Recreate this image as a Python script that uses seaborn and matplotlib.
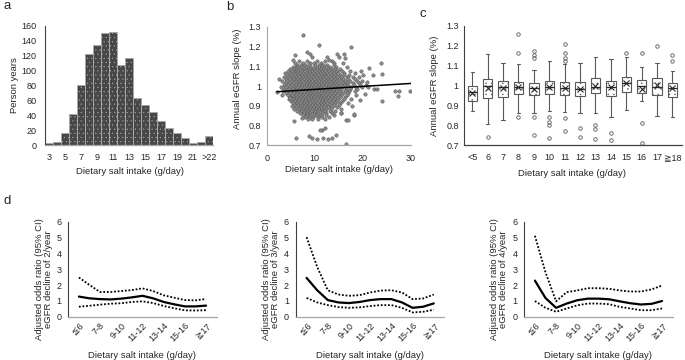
import numpy as np
import matplotlib
matplotlib.use("Agg")
import matplotlib.pyplot as plt
import seaborn as sns

# Panel a: person years per salt intake bin
salt_bins = ['3', '4', '5', '6', '7', '8', '9', '10', '11', '12', '13', '14', '15',
             '16', '17', '18', '19', '20', '21', '22', '>22']
person_years = [3, 4.5, 16.5, 41.5, 81, 122.5, 134, 150, 151.5, 107, 117.5, 63.5, 53.5,
                44.5, 32.5, 22.5, 16.5, 9, 2.5, 3.5, 11.5]

# Panel b: scatter cloud, read row by row (slope, salt intakes)
cloud_rows = [
    (1.125, [6.8, 8.3, 10.4, 12.2, 13.5]),
    (1.115, [5.9, 7.6, 9.0, 9.8, 11.3, 14.0, 15.8]),
    (1.105, [6.3, 7.1, 8.0, 8.7, 10.1, 10.9, 11.8, 12.6, 13.9]),
    (1.095, [5.4, 6.0, 6.6, 7.4, 8.2, 9.3, 10.0, 10.8, 11.5, 12.4, 13.1, 14.5, 16.7]),
    (1.085, [4.9, 5.7, 6.3, 7.0, 7.7, 8.5, 9.1, 9.8, 10.5, 11.2, 12.0, 12.8, 13.6, 14.3, 15.2]),
    (1.075, [4.5, 5.3, 6.0, 6.6, 7.3, 8.0, 8.7, 9.4, 10.1, 10.8, 11.5, 12.2, 12.9, 13.7, 14.6, 15.6, 17.3]),
    (1.065, [3.9, 4.8, 5.6, 6.3, 7.0, 7.6, 8.3, 9.0, 9.7, 10.4, 11.1, 11.8, 12.5, 13.2, 14.0, 14.8, 16.1, 18.4]),
    (1.055, [4.3, 5.1, 5.9, 6.6, 7.3, 8.0, 8.6, 9.3, 10.0, 10.7, 11.4, 12.1, 12.8, 13.5, 14.3, 15.2, 16.0, 17.2]),
    (1.045, [3.6, 4.6, 5.4, 6.1, 6.8, 7.5, 8.2, 8.9, 9.6, 10.3, 11.0, 11.7, 12.4, 13.1, 13.9, 14.7, 15.5, 16.6, 18.0, 19.1]),
    (1.035, [4.0, 4.9, 5.7, 6.4, 7.1, 7.8, 8.5, 9.2, 9.9, 10.6, 11.3, 12.0, 12.7, 13.4, 14.2, 15.0, 15.9, 17.0, 18.3]),
    (1.025, [3.2, 4.3, 5.2, 6.0, 6.7, 7.4, 8.1, 8.8, 9.5, 10.2, 10.9, 11.6, 12.3, 13.0, 13.7, 14.5, 15.4, 16.3, 17.4, 18.7, 19.8]),
    (1.015, [3.8, 4.7, 5.5, 6.3, 7.0, 7.7, 8.4, 9.1, 9.8, 10.5, 11.2, 11.9, 12.6, 13.3, 14.1, 14.9, 15.8, 16.8, 17.9, 19.2]),
    (1.005, [3.5, 4.4, 5.2, 6.0, 6.7, 7.4, 8.1, 8.8, 9.5, 10.2, 10.9, 11.6, 12.3, 13.0, 13.7, 14.4, 15.2, 16.1, 17.0, 18.1, 19.4, 20.6]),
    (0.995, [3.0, 4.1, 4.9, 5.7, 6.4, 7.1, 7.8, 8.5, 9.2, 9.9, 10.6, 11.3, 12.0, 12.7, 13.4, 14.1, 14.8, 15.6, 16.5, 17.5, 18.6, 19.9]),
    (0.985, [3.7, 4.6, 5.4, 6.2, 6.9, 7.6, 8.3, 9.0, 9.7, 10.4, 11.1, 11.8, 12.5, 13.2, 13.9, 14.7, 15.5, 16.4, 17.4, 18.8]),
    (0.975, [3.3, 4.3, 5.1, 5.9, 6.6, 7.3, 8.0, 8.7, 9.4, 10.1, 10.8, 11.5, 12.2, 12.9, 13.6, 14.4, 15.3, 16.2, 17.2, 18.3]),
    (0.965, [4.0, 4.8, 5.6, 6.3, 7.0, 7.7, 8.4, 9.1, 9.8, 10.5, 11.2, 11.9, 12.6, 13.3, 14.1, 15.0, 15.9, 17.0]),
    (0.955, [4.4, 5.3, 6.0, 6.7, 7.4, 8.1, 8.8, 9.5, 10.2, 10.9, 11.6, 12.3, 13.0, 13.8, 14.6, 15.5, 16.6, 18.6]),
    (0.945, [4.9, 5.7, 6.4, 7.1, 7.8, 8.5, 9.2, 9.9, 10.6, 11.3, 12.0, 12.7, 13.5, 14.3, 15.2, 16.2]),
    (0.935, [4.6, 5.4, 6.1, 6.8, 7.5, 8.2, 8.9, 9.6, 10.3, 11.0, 11.7, 12.4, 13.2, 14.0, 14.9, 16.0, 17.5]),
    (0.925, [5.1, 5.9, 6.6, 7.3, 8.0, 8.7, 9.4, 10.1, 10.8, 11.5, 12.2, 12.9, 13.7, 14.6, 15.6]),
    (0.915, [5.5, 6.3, 7.0, 7.7, 8.4, 9.1, 9.8, 10.5, 11.2, 11.9, 12.6, 13.4, 14.3, 15.3, 16.9]),
    (0.905, [5.8, 6.6, 7.3, 8.0, 8.7, 9.4, 10.1, 10.8, 11.5, 12.2, 13.0, 13.9, 15.0]),
    (0.895, [6.2, 7.0, 7.7, 8.4, 9.1, 9.8, 10.5, 11.2, 11.9, 12.7, 13.6, 14.7]),
    (0.885, [5.7, 6.7, 7.4, 8.1, 8.8, 9.5, 10.2, 10.9, 11.6, 12.4, 13.3, 15.5]),
    (0.875, [6.4, 7.2, 7.9, 8.6, 9.3, 10.0, 10.7, 11.4, 12.2, 13.1, 14.2]),
    (0.865, [6.9, 7.7, 8.4, 9.1, 9.8, 10.6, 11.4, 12.3, 13.5, 15.4]),
    (0.855, [7.5, 8.3, 9.0, 9.8, 10.5, 11.3, 12.4, 14.0, 18.2]),
    (0.845, [8.0, 8.9, 9.7, 10.6, 11.6, 13.0]),
    (0.835, [8.6, 9.5, 10.7, 12.2]),
]
outlier_x = [7.6, 10.9, 17.5, 5.9, 5.5, 9.0, 9.4, 8.3, 12.6, 12.9, 14.7, 15.1, 16.1, 16.3,
             23.7, 21.3, 22.2, 24.0, 20.1, 19.6, 26.7, 27.5, 27.4, 29.7, 24.0, 22.3, 23.0,
             21.1, 20.8, 2.6, 2.1, 5.75, 6.2, 7.3, 8.7, 9.4, 10.4, 11.8, 12.7, 11.6, 12.1,
             13.5, 11.1, 14.4, 16.4, 16.5, 17.0, 18.2, 15.4, 4.8, 5.2, 19.3, 20.5, 17.8, 3.2]
outlier_y = [1.258, 1.207, 1.195, 1.157, 1.131, 1.16, 1.148, 1.17, 1.145, 1.132, 1.162, 1.145,
             1.162, 1.143, 1.114, 1.092, 1.056, 1.059, 1.055, 1.075, 0.974, 0.974, 0.949,
             0.974, 0.924, 0.983, 0.983, 0.997, 1.02, 1.035, 0.968, 0.823, 0.735, 0.84, 0.747,
             0.735, 0.73, 0.735, 0.73, 0.777, 0.79, 0.735, 0.777, 0.753, 0.707, 0.827, 0.827,
             0.86, 0.865, 0.94, 0.90, 0.93, 0.96, 0.90, 0.955]
fit_x = [2.1, 30]
fit_y = [0.971, 1.013]

# Panel c: box plot summaries
box_labels = ['<5', '6', '7', '8', '9', '10', '11', '12', '13', '14', '15', '16', '17', '≧18']
whis_hi = [1.066, 1.159, 1.115, 1.107, 1.078, 1.125, 1.107, 1.115, 1.145, 1.132, 1.145, 1.095, 1.115, 1.073]
q3 = [0.997, 1.033, 1.024, 1.019, 1.014, 1.024, 1.019, 1.018, 1.036, 1.024, 1.045, 1.028, 1.040, 1.011]
med = [0.967, 0.997, 0.994, 0.994, 0.989, 0.991, 0.989, 0.981, 0.994, 0.994, 1.011, 0.997, 0.991, 0.986]
means = [0.964, 0.986, 0.987, 0.991, 0.982, 0.991, 0.989, 0.981, 0.997, 0.994, 1.014, 0.982, 1.003, 0.986]
q1 = [0.924, 0.935, 0.944, 0.957, 0.952, 0.955, 0.950, 0.947, 0.960, 0.949, 0.969, 0.960, 0.950, 0.940]
whis_lo = [0.873, 0.804, 0.826, 0.863, 0.863, 0.873, 0.868, 0.860, 0.860, 0.843, 0.876, 0.924, 0.846, 0.840]
fliers = [[], [0.739], [], [1.258, 1.162, 0.840], [1.172, 1.152, 1.139, 0.843, 0.749],
          [0.840, 0.816, 0.800, 0.735], [1.209, 1.162, 1.140, 1.124, 0.834, 0.771],
          [0.784, 0.739], [0.800, 0.779, 0.729], [0.759, 0.725], [1.166],
          [1.162, 0.813, 0.712], [1.199], [1.154, 1.125]]

# Panel d: odds ratios at each category and halfway between categories
d_labels = ['≦6', '7-8', '9-10', '11-12', '13-14', '15-16', '≧17']
d_titles = ['2/year', '3/year', '4/year']
or_2 = [1.27, 1.16, 1.11, 1.09, 1.14, 1.22, 1.32, 1.16, 0.93, 0.78, 0.65, 0.65, 0.70]
hi_2 = [2.48, 2.00, 1.56, 1.56, 1.62, 1.68, 1.79, 1.62, 1.35, 1.20, 1.05, 1.03, 1.12]
lo_2 = [0.63, 0.69, 0.76, 0.82, 0.85, 0.93, 0.97, 0.86, 0.68, 0.53, 0.40, 0.39, 0.41]
or_3 = [2.45, 1.67, 1.05, 0.90, 0.86, 0.93, 1.05, 1.11, 1.11, 0.90, 0.56, 0.63, 0.84]
hi_3 = [5.02, 3.14, 1.67, 1.40, 1.32, 1.36, 1.53, 1.65, 1.67, 1.53, 1.11, 1.15, 1.40]
lo_3 = [1.19, 0.90, 0.73, 0.61, 0.56, 0.59, 0.67, 0.73, 0.73, 0.56, 0.27, 0.31, 0.44]
or_4 = [2.28, 1.18, 0.56, 0.83, 1.04, 1.14, 1.14, 1.10, 0.97, 0.85, 0.77, 0.81, 0.99]
hi_4 = [5.11, 2.80, 0.97, 1.55, 1.66, 1.80, 1.80, 1.76, 1.66, 1.59, 1.59, 1.72, 1.97]
lo_4 = [0.99, 0.56, 0.31, 0.52, 0.72, 0.83, 0.83, 0.79, 0.62, 0.52, 0.41, 0.41, 0.52]

XLAB = 'Dietary salt intake (g/day)'
TICK = 6.5
LAB = 6.8

sns.set_theme(style="white")
plt.rcParams['font.family'] = ['Liberation Sans', 'DejaVu Sans', 'Noto Sans CJK JP']
plt.rcParams['hatch.linewidth'] = 0.3


def style_axes(ax, left_col='#404040', bottom_col='#a6a6a6'):
    for s in ['top', 'right']:
        ax.spines[s].set_visible(False)
    ax.spines['left'].set_color(left_col)
    ax.spines['bottom'].set_color(bottom_col)
    ax.spines['left'].set_linewidth(0.8)
    ax.spines['bottom'].set_linewidth(0.9)
    ax.tick_params(length=0, labelsize=TICK, colors='#262626')
    ax.tick_params(axis='y', pad=4)
    ax.tick_params(axis='x', pad=6)


fig = plt.figure(figsize=(6.85, 3.6), dpi=100)

# ---- a ----
ax = fig.add_axes([0.0657, 0.5972, 0.2453, 0.3306])
sns.barplot(x=salt_bins, y=person_years, color='#474747', saturation=1, width=1.0,
            edgecolor='#a8a8a8', linewidth=0.7, hatch='....', errorbar=None, ax=ax)
ax.set_xlim(-0.5, 20.5)
ax.set_ylim(0, 160)
ax.set_yticks(range(0, 161, 20))
ax.set_xticks(range(0, 21, 2))
ax.set_xticklabels(salt_bins[::2])
style_axes(ax)
ax.tick_params(axis='y', pad=6)
ax.set_ylabel('Person years', fontsize=LAB)
ax.set_xlabel(XLAB, fontsize=LAB)
ax.yaxis.set_label_coords(-0.155, 0.5)
ax.xaxis.set_label_coords(0.503, -0.182)

# ---- b ----
ax = fig.add_axes([0.3893, 0.5964, 0.2107, 0.3294])
cloud_x = [x for y, xs in cloud_rows for x in xs] + outlier_x
cloud_y = [y for y, xs in cloud_rows for x in xs] + outlier_y
sns.scatterplot(x=cloud_x, y=cloud_y, s=6, color='#8c8c8c', edgecolor='#505050',
                linewidth=0.35, ax=ax)
sns.lineplot(x=fit_x, y=fit_y, color='black', linewidth=1.1, ax=ax)
ax.set_xlim(0, 30)
ax.set_ylim(0.7, 1.3)
ax.set_xticks([0, 10, 20, 30])
ax.set_yticks(np.round(np.arange(0.7, 1.31, 0.1), 1))
ax.set_yticklabels(['0.7', '0.8', '0.9', '1', '1.1', '1.2', '1.3'])
style_axes(ax, '#a6a6a6', '#a6a6a6')
ax.set_ylabel('Annual eGFR slope (%)', fontsize=LAB)
ax.set_xlabel(XLAB, fontsize=LAB)
ax.yaxis.set_label_coords(-0.169, 0.56)
ax.xaxis.set_label_coords(0.501, -0.166)

# ---- c ----
ax = fig.add_axes([0.6778, 0.5972, 0.3174, 0.3306])
stats = []
for i in range(len(box_labels)):
    stats.append(dict(label=box_labels[i], whislo=whis_lo[i], q1=q1[i], med=med[i],
                      q3=q3[i], whishi=whis_hi[i], mean=means[i], fliers=fliers[i]))
ax.bxp(stats, positions=range(len(box_labels)), widths=0.62, capwidths=0.22,
       showmeans=True, patch_artist=True,
       boxprops=dict(facecolor='white', edgecolor='#595959', linewidth=0.8, hatch='...'),
       whiskerprops=dict(color='#595959', linewidth=0.8),
       capprops=dict(color='#595959', linewidth=0.8),
       medianprops=dict(color='#262626', linewidth=0.9),
       meanprops=dict(marker='x', markeredgecolor='#262626', markersize=4, markeredgewidth=0.8),
       flierprops=dict(marker='o', markerfacecolor='none', markeredgecolor='#595959',
                       markersize=2.5, markeredgewidth=0.6))
ax.set_xlim(-0.52, 13.6)
ax.set_ylim(0.7, 1.3)
ax.set_yticks(np.round(np.arange(0.7, 1.31, 0.1), 1))
ax.set_yticklabels(['0.7', '0.8', '0.9', '1', '1.1', '1.2', '1.3'])
ax.set_xticks(range(len(box_labels)))
ax.set_xticklabels(box_labels, rotation=0)
style_axes(ax, '#404040', '#404040')
ax.set_ylabel('Annual eGFR slope (%)', fontsize=LAB)
ax.set_xlabel(XLAB, fontsize=LAB)
ax.yaxis.set_label_coords(-0.115, 0.5)
ax.xaxis.set_label_coords(0.497, -0.204)

# ---- d ----
d_sets = [(or_2, hi_2, lo_2), (or_3, hi_3, lo_3), (or_4, hi_4, lo_4)]
d_left = [0.0997, 0.4321, 0.7654]
d_ylab_x = [-0.101, -0.108, -0.107]
for k, (orv, hiv, lov) in enumerate(d_sets):
    ax = fig.add_axes([d_left[k], 0.1203, 0.2166, 0.2639])
    pos = np.arange(len(orv)) * 0.5
    sns.lineplot(x=pos, y=hiv, color='black', linewidth=1.3, linestyle=(0, (1, 1)), ax=ax)
    sns.lineplot(x=pos, y=lov, color='black', linewidth=1.3, linestyle=(0, (1, 1)), ax=ax)
    sns.lineplot(x=pos, y=orv, color='black', linewidth=1.6, ax=ax)
    ax.set_xlim(-0.5, 6.5)
    ax.set_ylim(0, 6)
    ax.set_yticks(range(7))
    ax.set_xticks(range(len(d_labels)))
    ax.set_xticklabels(d_labels, rotation=45, ha='right', rotation_mode='anchor')
    style_axes(ax, '#404040', '#a6a6a6')
    ax.tick_params(axis='x', pad=3)
    ax.tick_params(axis='y', pad=5)
    ax.set_ylabel('Adjusted odds ratio (95% CI)\neGFR decline of ' + d_titles[k],
                  fontsize=LAB, linespacing=1.0)
    ax.set_xlabel(XLAB, fontsize=LAB)
    ax.yaxis.set_label_coords(d_ylab_x[k], 0.395)
    ax.xaxis.set_label_coords(0.5, -0.361)

fig.text(3 / 685, 1 - 6 / 360, 'a', fontsize=9.5, va='center', ha='left')
fig.text(226 / 685, 1 - 7 / 360, 'b', fontsize=9.5, va='center', ha='left')
fig.text(420 / 685, 1 - 14 / 360, 'c', fontsize=9.5, va='center', ha='left')
fig.text(3 / 685, 1 - 201 / 360, 'd', fontsize=9.5, va='center', ha='left')

fig.savefig('out.png', dpi=100)
